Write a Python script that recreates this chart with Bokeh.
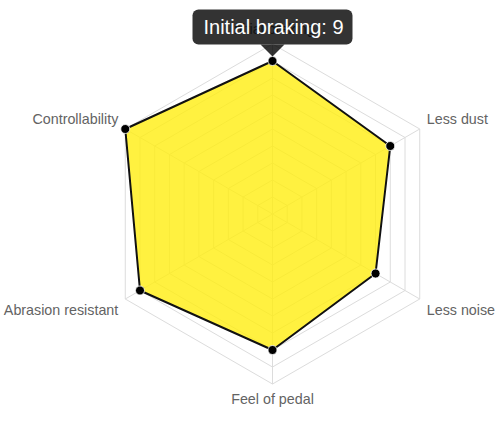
import numpy as np
from bokeh.plotting import figure
from bokeh.models import Range1d, ColumnDataSource
from bokeh.core.properties import value
from bokeh.embed import file_html
from bokeh.resources import INLINE

# ---- data ----
categories = ["Initial braking", "Less dust", "Less noise", "Feel of pedal",
              "Abrasion resistant", "Controllability"]
scores = [9, 8, 7, 8, 9, 10]
max_score = 10
grid_levels = list(range(1, 11))
tooltip_index = 0

# ---- geometry ----
W, H = 500, 429
S = 17.0              # pixels per unit
CX, CY = 272.0, 213.5  # centre in screen px
n = len(categories)
angles = np.pi / 2 - 2 * np.pi * np.arange(n) / n

p = figure(width=W, height=H, output_backend="svg", toolbar_location=None,
           x_range=Range1d(-CX / S, (W - CX) / S),
           y_range=Range1d(-(H - CY) / S, CY / S),
           min_border=0, outline_line_color=None)
p.axis.visible = False
p.grid.visible = False
p.background_fill_color = "white"
p.border_fill_color = "white"

grid_col = "#dcdcdc"
# grid hexagons
gx, gy = [], []
for lv in grid_levels:
    xs = list(lv * np.cos(angles)) + [lv * np.cos(angles[0])]
    ys = list(lv * np.sin(angles)) + [lv * np.sin(angles[0])]
    gx.append(xs); gy.append(ys)
p.multi_line(gx, gy, line_color=grid_col, line_width=1)
# spokes
p.multi_line([[0, max_score * np.cos(a)] for a in angles],
             [[0, max_score * np.sin(a)] for a in angles],
             line_color=grid_col, line_width=1)

# data polygon
vx = [v * np.cos(a) for v, a in zip(scores, angles)]
vy = [v * np.sin(a) for v, a in zip(scores, angles)]
p.patch(vx, vy, fill_color="#ffee10", fill_alpha=0.8,
        line_color="#111111", line_width=2)
p.scatter(vx, vy, size=9, fill_color="#000000", line_color="white", line_width=0.8)

# category labels
lx, ly, al, bl = [], [], [], []
for a in angles:
    c, s_ = np.cos(a), np.sin(a)
    x = max_score * c
    y = max_score * s_
    if abs(c) < 1e-6:
        al.append("center")
        if s_ > 0:
            y += 15 / S
        else:
            y -= 15 / S
    else:
        al.append("left" if c > 0 else "right")
        x += (np.sign(c) * 7) / S
        y += (np.sign(s_) * 10.5) / S
    bl.append("middle")
    lx.append(x); ly.append(y)
src = ColumnDataSource(dict(x=lx, y=ly, t=categories, al=al, bl=bl))
p.text(x="x", y="y", text="t", source=src, text_align="al", text_baseline="bl",
       text_font=value("Liberation Sans"), text_font_size="14.3px",
       text_color="#636363")

# tooltip
tx, ty = vx[tooltip_index], vy[tooltip_index]
tip_gap = 4.5 / S
caret_h = 12 / S
caret_w = 12 / S
box_h = 35 / S
box_w = 160 / S
base_y = ty + tip_gap + caret_h
p.quad(left=[tx - box_w / 2], right=[tx + box_w / 2], bottom=[base_y],
       top=[base_y + box_h], fill_color="#000000", fill_alpha=0.8,
       line_color=None, border_radius=6)
p.patch([tx - caret_w, tx + caret_w, tx], [base_y, base_y, ty + tip_gap],
        fill_color="#000000", fill_alpha=0.8, line_color=None)
p.text(x=[tx + 1 / S], y=[base_y + box_h / 2],
       text=[f"{categories[tooltip_index]}: {scores[tooltip_index]}"],
       text_align="center", text_baseline="middle",
       text_font=value("Liberation Sans"), text_font_size="20px",
       text_color="white")

open("out.html", "w").write(file_html(p, INLINE))
